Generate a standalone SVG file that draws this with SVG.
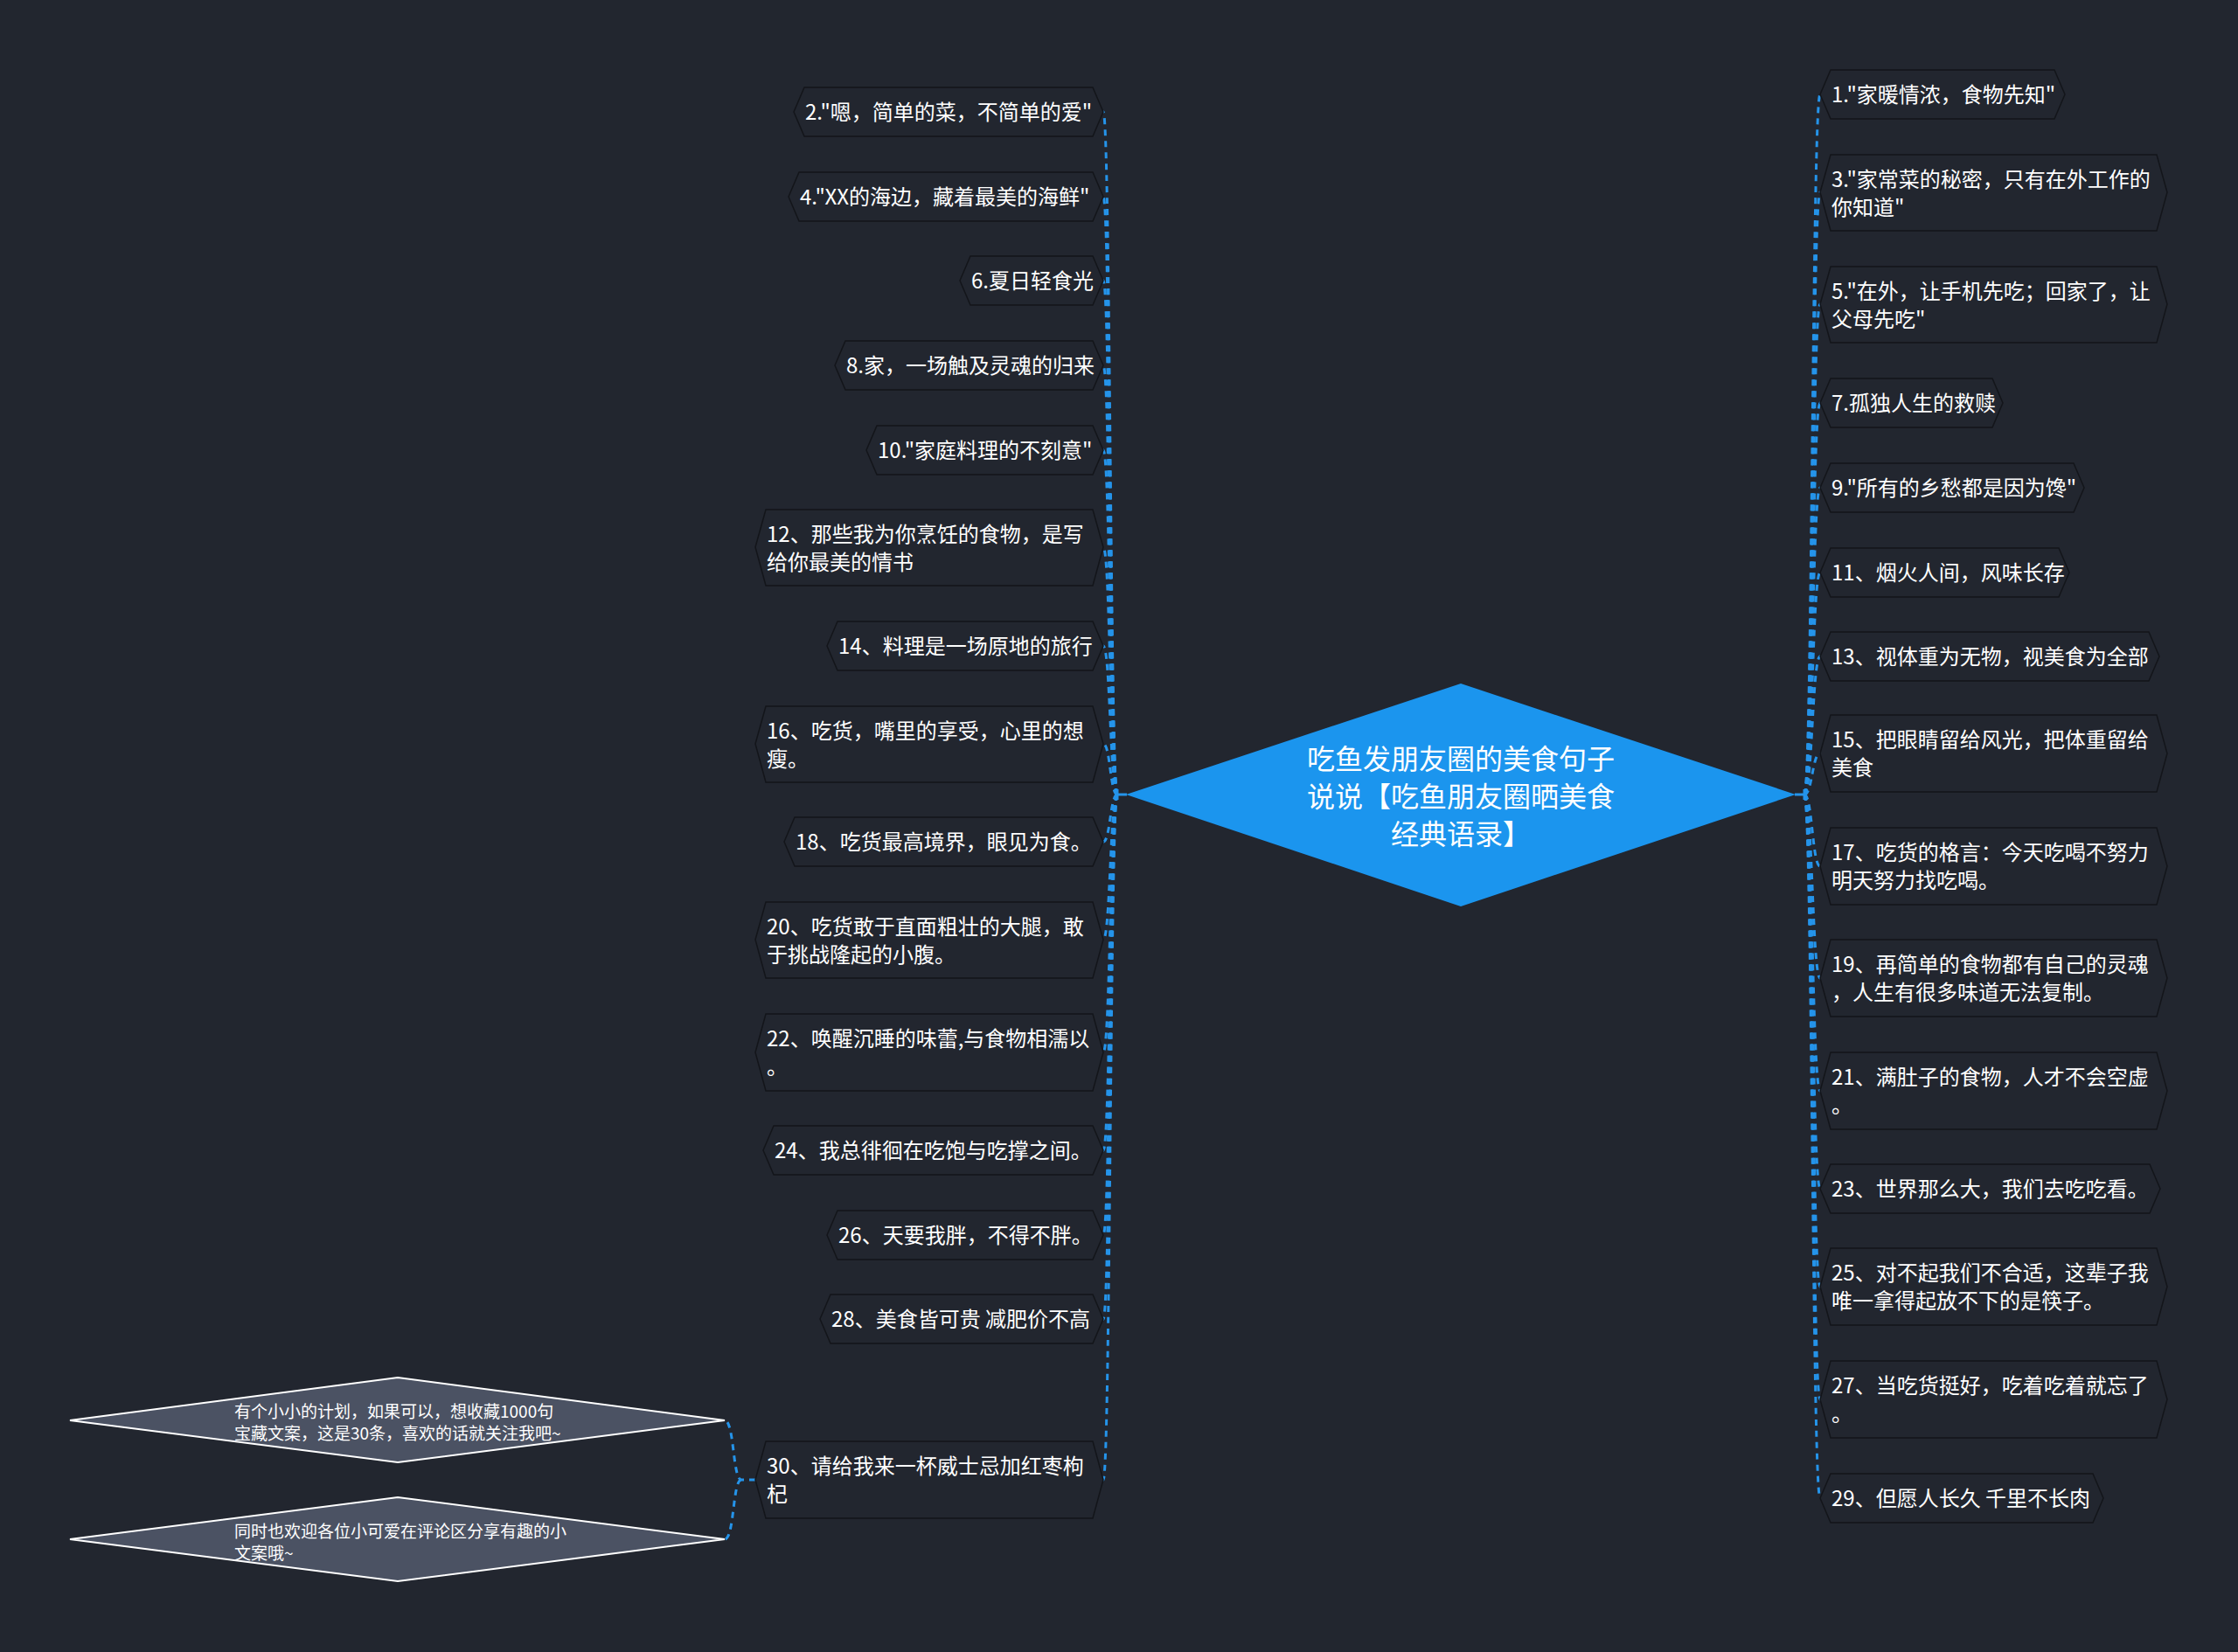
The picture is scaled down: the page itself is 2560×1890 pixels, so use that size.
<svg xmlns="http://www.w3.org/2000/svg" width="2560" height="1890" viewBox="0 0 2560 1890">
<style>
.n polygon{fill:#22262f;stroke:#13151a;stroke-width:1.5}
.t{font-family:"Noto Sans CJK SC","Noto Sans CJK JP",sans-serif;font-size:24px;fill:#ffffff}
.ct{font-family:"Noto Sans CJK SC","Noto Sans CJK JP",sans-serif;font-size:32px;fill:#ffffff;text-anchor:middle}
.st{font-family:"Noto Sans CJK SC","Noto Sans CJK JP",sans-serif;font-size:19px;fill:#ffffff}
.c path{fill:none;stroke:#2594ea;stroke-width:3;stroke-dasharray:7 6}
.c .s{stroke-dasharray:none}
.sub polygon{fill:#4b5263;stroke:#ffffff;stroke-width:2}
</style>
<rect x="0" y="0" width="2560" height="1890" fill="#22262f"/>
<g class="c" id="connectors">
<path class="s" d="M1278,909 H1289 M1278,903 V915"/>
<path class="s" d="M2053,909 H2064 M2064,903 V915"/>
<path d="M1278,909 C1270,909 1270,128 1262,128"/>
<path d="M1278,909 C1270,909 1270,225 1262,225"/>
<path d="M1278,909 C1270,909 1270,321 1262,321"/>
<path d="M1278,909 C1270,909 1270,418 1262,418"/>
<path d="M1278,909 C1270,909 1270,515 1262,515"/>
<path d="M1278,909 C1270,909 1270,626 1262,626"/>
<path d="M1278,909 C1270,909 1270,739 1262,739"/>
<path d="M1278,909 C1270,909 1270,851 1262,851"/>
<path d="M1278,909 C1270,909 1270,963 1262,963"/>
<path d="M1278,909 C1270,909 1270,1075 1262,1075"/>
<path d="M1278,909 C1270,909 1270,1204 1262,1204"/>
<path d="M1278,909 C1270,909 1270,1316 1262,1316"/>
<path d="M1278,909 C1270,909 1270,1413 1262,1413"/>
<path d="M1278,909 C1270,909 1270,1509 1262,1509"/>
<path d="M1278,909 C1270,909 1270,1693 1262,1693"/>
<path d="M2064,909 C2073,909 2073,108 2082,108"/>
<path d="M2064,909 C2073,909 2073,220 2082,220"/>
<path d="M2064,909 C2073,909 2073,348 2082,348"/>
<path d="M2064,909 C2073,909 2073,461 2082,461"/>
<path d="M2064,909 C2073,909 2073,558 2082,558"/>
<path d="M2064,909 C2073,909 2073,655 2082,655"/>
<path d="M2064,909 C2073,909 2073,751 2082,751"/>
<path d="M2064,909 C2073,909 2073,862 2082,862"/>
<path d="M2064,909 C2073,909 2073,991 2082,991"/>
<path d="M2064,909 C2073,909 2073,1119 2082,1119"/>
<path d="M2064,909 C2073,909 2073,1248 2082,1248"/>
<path d="M2064,909 C2073,909 2073,1360 2082,1360"/>
<path d="M2064,909 C2073,909 2073,1472 2082,1472"/>
<path d="M2064,909 C2073,909 2073,1601 2082,1601"/>
<path d="M2064,909 C2073,909 2073,1714 2082,1714"/>
<path d="M864,1693 H848 C838,1693 840,1625 829,1625"/>
<path d="M848,1693 C838,1693 840,1761 829,1761"/>
</g>
<g id="center">
<polygon points="1288,909 1671,782 2054,909 1671,1037" fill="#1b95ee"/>
<text class="ct" x="1671" y="880">吃鱼发朋友圈的美食句子</text>
<text class="ct" x="1671" y="923">说说【吃鱼朋友圈晒美食</text>
<text class="ct" x="1671" y="966">经典语录】</text>
</g>
<g class="n" id="n2"><polygon points="908,128 920,100 1250,100 1262,128 1250,156 920,156"/><text class="t" x="921" y="137">2."嗯，简单的菜，不简单的爱"</text></g>
<g class="n" id="n4"><polygon points="902,225 914,197 1250,197 1262,225 1250,253 914,253"/><text class="t" x="915" y="234">4."XX的海边，藏着最美的海鲜"</text></g>
<g class="n" id="n6"><polygon points="1098,321 1110,293 1250,293 1262,321 1250,349 1110,349"/><text class="t" x="1111" y="330">6.夏日轻食光</text></g>
<g class="n" id="n8"><polygon points="955,418 967,390 1250,390 1262,418 1250,446 967,446"/><text class="t" x="968" y="427">8.家，一场触及灵魂的归来</text></g>
<g class="n" id="n10"><polygon points="991,515 1003,487 1250,487 1262,515 1250,543 1003,543"/><text class="t" x="1004" y="524">10."家庭料理的不刻意"</text></g>
<g class="n" id="n12"><polygon points="864,626 876,583 1250,583 1262,626 1250,670 876,670"/><text class="t" x="877" y="620">12、那些我为你烹饪的食物，是写</text><text class="t" x="877" y="652">给你最美的情书</text></g>
<g class="n" id="n14"><polygon points="946,739 958,711 1250,711 1262,739 1250,767 958,767"/><text class="t" x="959" y="748">14、料理是一场原地的旅行</text></g>
<g class="n" id="n16"><polygon points="864,851 876,808 1250,808 1262,851 1250,895 876,895"/><text class="t" x="877" y="845">16、吃货，嘴里的享受，心里的想</text><text class="t" x="877" y="877">瘦。</text></g>
<g class="n" id="n18"><polygon points="897,963 909,935 1250,935 1262,963 1250,991 909,991"/><text class="t" x="910" y="972">18、吃货最高境界，眼见为食。</text></g>
<g class="n" id="n20"><polygon points="864,1075 876,1032 1250,1032 1262,1075 1250,1119 876,1119"/><text class="t" x="877" y="1069">20、吃货敢于直面粗壮的大腿，敢</text><text class="t" x="877" y="1101">于挑战隆起的小腹。</text></g>
<g class="n" id="n22"><polygon points="864,1204 876,1160 1250,1160 1262,1204 1250,1248 876,1248"/><text class="t" x="877" y="1197">22、唤醒沉睡的味蕾,与食物相濡以</text><text class="t" x="877" y="1229">。</text></g>
<g class="n" id="n24"><polygon points="873,1316 885,1288 1250,1288 1262,1316 1250,1344 885,1344"/><text class="t" x="886" y="1325">24、我总徘徊在吃饱与吃撑之间。</text></g>
<g class="n" id="n26"><polygon points="946,1413 958,1385 1250,1385 1262,1413 1250,1441 958,1441"/><text class="t" x="959" y="1422">26、天要我胖，不得不胖。</text></g>
<g class="n" id="n28"><polygon points="938,1509 950,1481 1250,1481 1262,1509 1250,1537 950,1537"/><text class="t" x="951" y="1518">28、美食皆可贵 减肥价不高</text></g>
<g class="n" id="n30"><polygon points="864,1693 876,1649 1250,1649 1262,1693 1250,1737 876,1737"/><text class="t" x="877" y="1686">30、请给我来一杯威士忌加红枣枸</text><text class="t" x="877" y="1718">杞</text></g>
<g class="sub" id="s1"><polygon points="80,1625 455,1576 829,1625 455,1673"/><text class="st" x="268" y="1622">有个小小的计划，如果可以，想收藏1000句</text><text class="st" x="268" y="1647">宝藏文案，这是30条，喜欢的话就关注我吧~</text></g>
<g class="sub" id="s2"><polygon points="80,1761 455,1713 829,1761 455,1809"/><text class="st" x="268" y="1759">同时也欢迎各位小可爱在评论区分享有趣的小</text><text class="st" x="268" y="1784">文案哦~</text></g>
<g class="n" id="n1"><polygon points="2082,108 2094,80 2350,80 2362,108 2350,136 2094,136"/><text class="t" x="2095" y="117">1."家暖情浓，食物先知"</text></g>
<g class="n" id="n3"><polygon points="2082,220 2094,177 2467,177 2479,220 2467,264 2094,264"/><text class="t" x="2095" y="214">3."家常菜的秘密，只有在外工作的</text><text class="t" x="2095" y="246">你知道"</text></g>
<g class="n" id="n5"><polygon points="2082,348 2094,305 2467,305 2479,348 2467,392 2094,392"/><text class="t" x="2095" y="342">5."在外，让手机先吃；回家了，让</text><text class="t" x="2095" y="374">父母先吃"</text></g>
<g class="n" id="n7"><polygon points="2082,461 2094,433 2279,433 2291,461 2279,489 2094,489"/><text class="t" x="2095" y="470">7.孤独人生的救赎</text></g>
<g class="n" id="n9"><polygon points="2082,558 2094,530 2372,530 2384,558 2372,586 2094,586"/><text class="t" x="2095" y="567">9."所有的乡愁都是因为馋"</text></g>
<g class="n" id="n11"><polygon points="2082,655 2094,627 2355,627 2367,655 2355,683 2094,683"/><text class="t" x="2095" y="664">11、烟火人间，风味长存</text></g>
<g class="n" id="n13"><polygon points="2082,751 2094,723 2458,723 2470,751 2458,779 2094,779"/><text class="t" x="2095" y="760">13、视体重为无物，视美食为全部</text></g>
<g class="n" id="n15"><polygon points="2082,862 2094,818 2467,818 2479,862 2467,906 2094,906"/><text class="t" x="2095" y="855">15、把眼睛留给风光，把体重留给</text><text class="t" x="2095" y="887">美食</text></g>
<g class="n" id="n17"><polygon points="2082,991 2094,947 2467,947 2479,991 2467,1035 2094,1035"/><text class="t" x="2095" y="984">17、吃货的格言：今天吃喝不努力</text><text class="t" x="2095" y="1016">明天努力找吃喝。</text></g>
<g class="n" id="n19"><polygon points="2082,1119 2094,1075 2467,1075 2479,1119 2467,1163 2094,1163"/><text class="t" x="2095" y="1112">19、再简单的食物都有自己的灵魂</text><text class="t" x="2095" y="1144">，人生有很多味道无法复制。</text></g>
<g class="n" id="n21"><polygon points="2082,1248 2094,1204 2467,1204 2479,1248 2467,1292 2094,1292"/><text class="t" x="2095" y="1241">21、满肚子的食物，人才不会空虚</text><text class="t" x="2095" y="1273">。</text></g>
<g class="n" id="n23"><polygon points="2082,1360 2094,1332 2459,1332 2471,1360 2459,1388 2094,1388"/><text class="t" x="2095" y="1369">23、世界那么大，我们去吃吃看。</text></g>
<g class="n" id="n25"><polygon points="2082,1472 2094,1428 2467,1428 2479,1472 2467,1516 2094,1516"/><text class="t" x="2095" y="1465">25、对不起我们不合适，这辈子我</text><text class="t" x="2095" y="1497">唯一拿得起放不下的是筷子。</text></g>
<g class="n" id="n27"><polygon points="2082,1601 2094,1557 2467,1557 2479,1601 2467,1645 2094,1645"/><text class="t" x="2095" y="1594">27、当吃货挺好，吃着吃着就忘了</text><text class="t" x="2095" y="1626">。</text></g>
<g class="n" id="n29"><polygon points="2082,1714 2094,1686 2394,1686 2406,1714 2394,1742 2094,1742"/><text class="t" x="2095" y="1723">29、但愿人长久 千里不长肉</text></g>
</svg>
